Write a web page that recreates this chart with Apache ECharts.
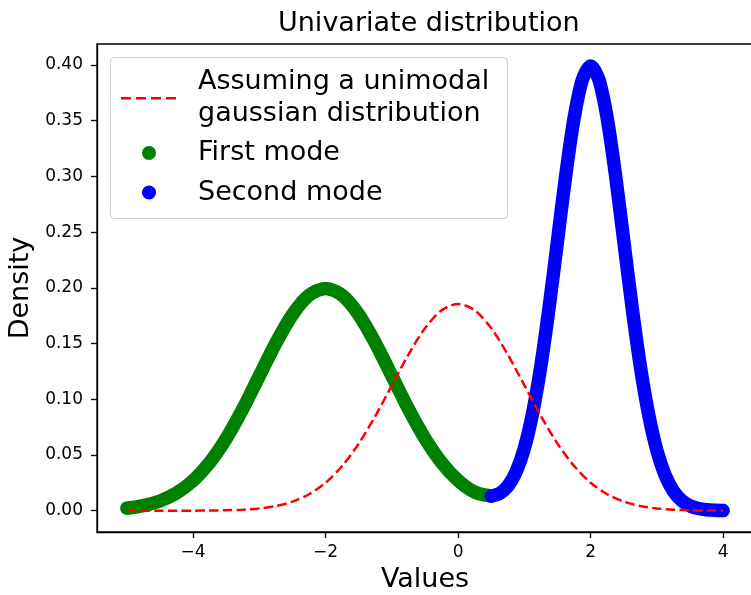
<!DOCTYPE html>
<html>
<head>
<meta charset="utf-8">
<script src="https://cdn.jsdelivr.net/npm/echarts@6/dist/echarts.min.js"></script>
<style>html,body{margin:0;padding:0;background:#fff}#c{width:751px;height:595px}</style>
</head>
<body>
<div id="c"></div>
<script>
// ---- data ----
const xTicks = [-4, -2, 0, 2, 4];
const yTicks = [0, 0.05, 0.10, 0.15, 0.20, 0.25, 0.30, 0.35, 0.40];

const firstModeX = [-5, -4.75, -4.5, -4.25, -4, -3.75, -3.5, -3.25, -3, -2.75, -2.5, -2.25, -2,
  -1.75, -1.5, -1.25, -1, -0.75, -0.5, -0.25, 0, 0.25, 0.5];
const firstModeY = [0.00222, 0.00455, 0.00876, 0.01587, 0.02700, 0.04314, 0.06476, 0.09132, 0.12099,
  0.15057, 0.17603, 0.19333, 0.19947, 0.19333, 0.17603, 0.15057, 0.12099, 0.09132, 0.06476,
  0.04318, 0.02713, 0.01674, 0.01319];

const secondModeX = [0.5, 0.625, 0.75, 0.875, 1, 1.125, 1.25, 1.375, 1.5, 1.625, 1.75, 1.875, 2,
  2.125, 2.25, 2.375, 2.5, 2.625, 2.75, 2.875, 3, 3.125, 3.25, 3.375, 3.5, 3.625, 3.75, 3.875, 4];
const secondModeY = [0.01319, 0.01545, 0.02208, 0.03494, 0.05621, 0.08779, 0.13053, 0.18332, 0.24241,
  0.30142, 0.35225, 0.38678, 0.39901, 0.38671, 0.35210, 0.30114, 0.24197, 0.18265, 0.12952,
  0.08628, 0.05399, 0.03174, 0.01753, 0.00909, 0.00443, 0.00203, 0.00087, 0.00035, 0.00013];

const unimodalX = [-5, -4.75, -4.5, -4.25, -4, -3.75, -3.5, -3.25, -3, -2.75, -2.5, -2.25, -2,
  -1.75, -1.5, -1.25, -1, -0.75, -0.5, -0.25, 0, 0.25, 0.5, 0.75, 1, 1.25, 1.5, 1.75, 2,
  2.25, 2.5, 2.75, 3, 3.25, 3.5, 3.75, 4];
const unimodalY = [0.00000, 0.00000, 0.00001, 0.00002, 0.00006, 0.00016, 0.00041, 0.00094, 0.00206,
  0.00423, 0.00815, 0.01476, 0.02510, 0.04012, 0.06022, 0.08493, 0.11251, 0.14002, 0.16370,
  0.17979, 0.18550, 0.17979, 0.16370, 0.14002, 0.11251, 0.08493, 0.06022, 0.04012, 0.02510,
  0.01476, 0.00815, 0.00423, 0.00206, 0.00094, 0.00041, 0.00016, 0.00006];

const titleText = 'Univariate distribution';
const xName = 'Values';
const yName = 'Density';
const unimodalName = 'Assuming a unimodal\ngaussian distribution';
const firstName = 'First mode';
const secondName = 'Second mode';

// ---- chart ----
const FONT = 'DejaVu Sans';
const pairs = (xs, ys) => xs.map((x, i) => [x, ys[i]]);
const chart = echarts.init(document.getElementById('c'), null, {renderer: 'canvas'});

const legendText = (padLeft, padBottom) => ({fontFamily: FONT, fontSize: 27, lineHeight: 32, color: '#000', padding: [0, 0, padBottom, padLeft]});

chart.setOption({
  animation: false,
  backgroundColor: '#fff',
  title: {
    text: titleText, left: 278, top: 10, padding: 0,
    textStyle: {fontFamily: FONT, fontSize: 27, fontWeight: 'normal', color: '#000'}
  },
  grid: {left: 97, top: 44, right: -2, bottom: 63, show: true, borderColor: '#000', borderWidth: 1.3,
    containLabel: false, outerBoundsMode: 'none'},
  xAxis: {
    type: 'value', min: -5.45, max: 4.45,
    name: xName, nameLocation: 'middle', nameGap: 34,
    nameTextStyle: {fontFamily: FONT, fontSize: 27, color: '#000'},
    axisLine: {show: true, onZero: false, lineStyle: {color: '#000', width: 1.3}},
    axisTick: {show: true, length: 6, lineStyle: {color: '#000', width: 1.3}, customValues: xTicks},
    axisLabel: {customValues: xTicks, margin: 12, fontFamily: FONT, fontSize: 17, color: '#000',
      formatter: v => (v < 0 ? '\u2212' + Math.abs(v) : String(v))},
    splitLine: {show: false}
  },
  yAxis: {
    type: 'value', min: -0.0191, max: 0.4188,
    name: yName, nameLocation: 'middle', nameGap: 62,
    nameTextStyle: {fontFamily: FONT, fontSize: 27, color: '#000'},
    axisLine: {show: true, onZero: false, lineStyle: {color: '#000', width: 1.3}},
    axisTick: {show: true, length: 6, lineStyle: {color: '#000', width: 1.3}, customValues: yTicks},
    axisLabel: {customValues: yTicks, margin: 14, fontFamily: FONT, fontSize: 17, color: '#000',
      formatter: v => v.toFixed(2)},
    splitLine: {show: false}
  },
  graphic: [{
    type: 'rect', left: 110, top: 57, z: 10,
    shape: {width: 397, height: 161, r: 4},
    style: {fill: 'rgba(255,255,255,0.8)', stroke: '#cccccc', lineWidth: 1}
  }],
  legend: [
    {
      data: [{name: unimodalName, icon: 'path://M0 0h10v2.5h-10z M15 0h10v2.5h-10z M30 0h10v2.5h-10z M45 0h10v2.5h-10z'}],
      left: 121, top: 61.3, padding: 0, itemWidth: 55, itemHeight: 2.5, selectedMode: false, z: 20,
      itemStyle: {borderWidth: 0}, textStyle: legendText(17, 10)
    },
    {
      data: [{name: firstName, icon: 'circle'}],
      left: 142, top: 134, padding: 0, itemWidth: 14, itemHeight: 14, selectedMode: false, z: 20,
      itemStyle: {borderWidth: 0}, textStyle: legendText(37, 6)
    },
    {
      data: [{name: secondName, icon: 'circle'}],
      left: 142, top: 173.5, padding: 0, itemWidth: 14, itemHeight: 14, selectedMode: false, z: 20,
      itemStyle: {borderWidth: 0}, textStyle: legendText(37, 6)
    }
  ],
  series: [
    {
      name: firstName, type: 'line', data: pairs(firstModeX, firstModeY), smooth: 0.3,
      showSymbol: false, symbol: 'none', color: '#008000', itemStyle: {color: '#008000'},
      lineStyle: {color: '#008000', width: 13.5, cap: 'round', join: 'round'}, z: 2
    },
    {
      name: secondName, type: 'line', data: pairs(secondModeX, secondModeY), smooth: 0.3,
      showSymbol: false, symbol: 'none', color: '#0000ff', itemStyle: {color: '#0000ff'},
      lineStyle: {color: '#0000ff', width: 13.5, cap: 'round', join: 'round'}, z: 3
    },
    {
      name: unimodalName, type: 'line', data: pairs(unimodalX, unimodalY), smooth: 0.3,
      showSymbol: false, symbol: 'none', color: '#ff0000', itemStyle: {color: '#ff0000'},
      lineStyle: {color: '#ff0000', width: 2.5, type: [9.5, 4.2]}, z: 4
    }
  ]
});
</script>
</body>
</html>
